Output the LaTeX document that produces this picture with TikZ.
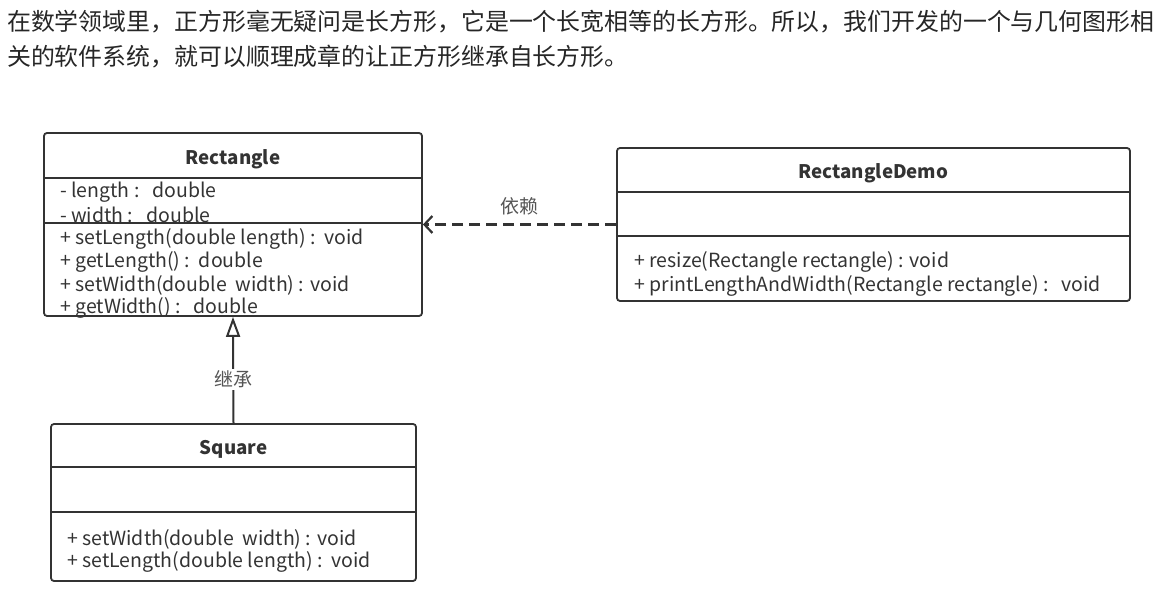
\documentclass[tikz,border=0pt]{standalone}
\usepackage{fontspec}
\setmainfont{Noto Sans CJK SC}
\usepackage{xcolor}
\usetikzlibrary{positioning,arrows.meta}
\definecolor{umlGray}{HTML}{333333}
\definecolor{labelGray}{HTML}{555555}

\begin{document}
\begin{tikzpicture}[x=1pt,y=-1pt,
classBox/.style={draw=umlGray,line width=1.8pt,rounded corners=3pt,inner sep=0pt},
sepLine/.style={draw=umlGray,line width=1.8pt},
className/.style={font=\fontsize{18.7}{22}\selectfont\bfseries,text=umlGray},
member/.style={anchor=west,inner sep=0pt,font=\fontsize{19.5}{22}\selectfont,text=umlGray},
intro/.style={anchor=west,inner sep=0pt,font=\fontsize{23.9}{28}\selectfont,text=black!85},
edgeLabel/.style={fill=white,inner sep=2pt,font=\fontsize{19}{21}\selectfont,text=labelGray}]
\useasboundingbox (0,0) rectangle (1167,601);

\node[intro] (line1) at (7,22) {在数学领域里，正方形毫无疑问是长方形，它是一个长宽相等的长方形。所以，我们开发的一个与几何图形相};
\node[intro] (line2) at (7,57) {关的软件系统，就可以顺理成章的让正方形继承自长方形。};

% class boxes
\node[classBox,minimum width=378pt,minimum height=183pt] (rect) at (233,224.5) {};
\node[classBox,minimum width=513pt,minimum height=153pt] (demo) at (873.5,224.5) {};
\node[classBox,minimum width=365pt,minimum height=157pt] (square) at (233.5,502.5) {};

\draw[sepLine] (rect.west |- 0,178) -- (rect.east |- 0,178);
\draw[sepLine] (rect.west |- 0,223) -- (rect.east |- 0,223);
\draw[sepLine] (demo.west |- 0,192) -- (demo.east |- 0,192);
\draw[sepLine] (demo.west |- 0,236) -- (demo.east |- 0,236);
\draw[sepLine] (square.west |- 0,467) -- (square.east |- 0,467);
\draw[sepLine] (square.west |- 0,512) -- (square.east |- 0,512);

\node[className] (rectName) at (233,159) {Rectangle};
\node[member] (rectA1) at (60,192) {- length :\ \ \ double};
\node[member] (rectA2) at (60,215) {- width :\ \ \ double};
\node[member] (rectM1) at (60,239) {+ setLength(double length) :\ \ void};
\node[member] (rectM2) at (60,262) {+ getLength() :\ \ double};
\node[member] (rectM3) at (60,285) {+ setWidth(double\ \ width) : void};
\node[member] (rectM4) at (60,308) {+ getWidth() :\ \ \ double};

\node[className] (demoName) at (873.5,173) {RectangleDemo};
\node[member] (demoM1) at (634,262) {+ resize(Rectangle rectangle) : void};
\node[member] (demoM2) at (634,286) {+ printLengthAndWidth(Rectangle rectangle) :\ \ \ void};

\node[className] (squareName) at (233.5,449) {Square};
\node[member] (squareM1) at (67,539) {+ setWidth(double\ \ width) : void};
\node[member] (squareM2) at (67,562) {+ setLength(double length) :\ \ void};

% relations
\draw[umlGray,line width=2pt,-{Triangle[open,length=20pt,width=14pt,fill=white]}]
  (square.north) -- node[edgeLabel,pos=0.41] {继承} (rect.south);
\draw[umlGray,line width=2.2pt,dash pattern=on 11pt off 6pt,-{Straight Barb[length=8pt,width=17pt]}]
  (demo.west) -- node[above=5pt,font=\fontsize{19}{21}\selectfont,text=labelGray] {依赖} (rect.east);
\end{tikzpicture}
\end{document}
